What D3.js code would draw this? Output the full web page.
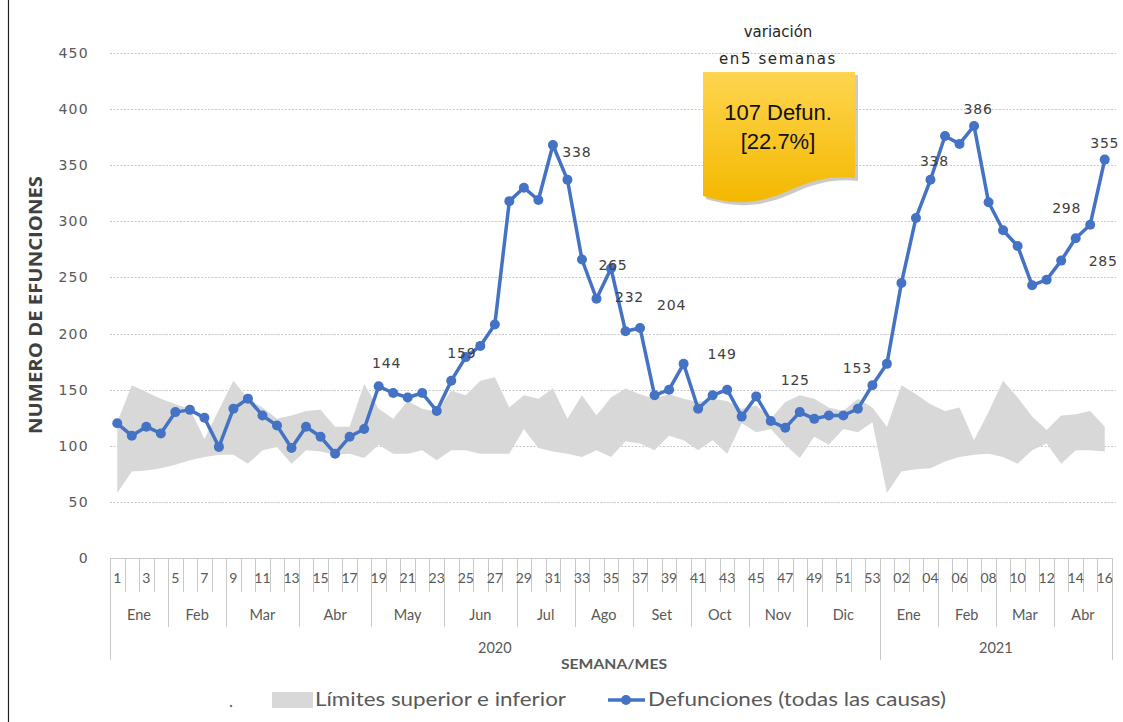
<!DOCTYPE html>
<html><head><meta charset="utf-8">
<script src="https://cdn.jsdelivr.net/npm/d3@7"></script>
<style>
html,body{margin:0;padding:0;background:#fff;}
svg{display:block;}
</style></head>
<body>
<svg id="chart" width="1123" height="722"></svg>
<script>
// ---------- DATA ----------
const weekLabels = ["1","2","3","4","5","6","7","8","9","10","11","12","13","14","15","16","17","18","19","20","21","22","23","24","25","26","27","28","29","30","31","32","33","34","35","36","37","38","39","40","41","42","43","44","45","46","47","48","49","50","51","52","53",
  "01","02","03","04","05","06","07","08","09","10","11","12","13","14","15","16"];
const shownTicks2020 = ["1","3","5","7","9","11","13","15","17","19","21","23","25","27","29","31","33","35","37","39","41","43","45","47","49","51","53"];
const shownTicks2021 = ["02","04","06","08","10","12","14","16"];
const monthNames = ["Ene","Feb","Mar","Abr","May","Jun","Jul","Ago","Set","Oct","Nov","Dic","Ene","Feb","Mar","Abr"];
const monthWeeks = [4,4,5,5,5,5,4,4,4,4,4,5,4,4,4,4];
const yearNames = ["2020","2021"];
const yearWeeks = [53,16];
const deaths = [120,109,117,111,130,132,125,99,133,142,127,118,98,117,108,93,108,115,153,147,143,147,131,158,179,189,208,318,330,319,368,337,266,231,258,202,205,145,150,173,133,145,150,126,144,122,116,130,124,127,127,133,154,
  173,245,303,337,376,369,385,317,292,278,243,248,265,285,297,355];
const upperLimit = [121,154,148,142,137,133,106,132,158,142,134,124,127,131,132,117,117,155,133,124,140,133,130,149,145,158,161,134,145,142,151,124,145,127,143,151,146,142,146,142,139,142,140,133,136,124,139,145,142,134,131,142,134,
  117,154,146,137,131,134,105,130,158,143,126,114,127,128,131,117];
const lowerLimit = [58,77,78,80,83,87,90,92,92,84,96,99,84,96,95,92,93,89,101,93,93,96,87,96,96,93,93,93,115,98,95,93,90,96,90,104,102,96,109,105,96,105,93,120,112,115,101,89,108,101,115,112,121,
  58,77,79,80,86,90,92,93,90,84,96,102,84,96,96,95];
const yTicks = [0,50,100,150,200,250,300,350,400,450];
const labelTexts = ["144","159","338","265","232","204","149","125","153","338","386","298","285","355"];
const labelIndex = [18,24,30,34,35,37,42,46,52,56,59,66,67,68];
// label offsets (style) relative to anchor point
const labelOffsets = [[8,-23],[-4,-4],[24,7],[2,-4],[4,-34],[17,-90],[-5,-36],[10,-48],[-15,-17],[4,-19],[4,-17],[-9,-30],[13,36],[0,-17]];

// ---------- CHART ----------
const svg = d3.select("#chart");
const L = 110, R = 1112, T = 53, B = 558;
const x = d3.scaleBand().domain(d3.range(weekLabels.length)).range([L, R]).padding(0);
const cx = i => x(i) + x.bandwidth()/2;
const y = d3.scaleLinear().domain([0,450]).range([B, T]);

// frame
svg.append("line").attr("x1",8.5).attr("x2",8.5).attr("y1",0).attr("y2",722).attr("stroke","#222").attr("stroke-width",1.2);

// gridlines
svg.append("g").selectAll("line").data(yTicks.filter(d=>d>0)).join("line")
  .attr("x1",L).attr("x2",R+4).attr("y1",d=>Math.round(y(d))+0.5).attr("y2",d=>Math.round(y(d))+0.5)
  .attr("stroke","#c8c8c8").attr("stroke-dasharray","2,1.5").attr("stroke-width",1);

// y tick labels
svg.append("g").selectAll("text").data(yTicks).join("text")
  .attr("x",89).attr("y",d=>y(d)).attr("dy","0.36em").attr("text-anchor","end")
  .attr("font-family","DejaVu Sans, Verdana, sans-serif").attr("font-size",14).attr("letter-spacing","1.3px")
  .attr("fill","#595959").text(d=>d);

// y title
svg.append("text").attr("transform","translate(42,305) rotate(-90)").attr("text-anchor","middle")
  .attr("font-family","Open Sans, DejaVu Sans, sans-serif").attr("font-weight","bold").attr("font-size",17)
  .attr("textLength",258).attr("lengthAdjust","spacingAndGlyphs")
  .attr("fill","#404040").text("NUMERO DE EFUNCIONES");

// band (area)
const area = d3.area().x((d,i)=>cx(i)).y0((d,i)=>y(lowerLimit[i])).y1((d,i)=>y(upperLimit[i]));
svg.append("path").datum(weekLabels).attr("d",area).attr("fill","#d8d8d8");

// x axis structure
const axisCol = "#c9c9c9";
const gx = svg.append("g");
gx.append("line").attr("x1",L).attr("x2",R).attr("y1",B+0.5).attr("y2",B+0.5).attr("stroke",axisCol);
const bx = i => Math.round(L + i*x.bandwidth())+0.5;
gx.selectAll("line.wk").data(d3.range(weekLabels.length+1)).join("line").attr("class","wk")
  .attr("x1",bx).attr("x2",bx).attr("y1",B).attr("y2",592).attr("stroke",axisCol);
const monthStarts = monthWeeks.map((d,i)=>d3.sum(monthWeeks.slice(0,i)));
gx.selectAll("line.mo").data(monthStarts.concat([weekLabels.length])).join("line").attr("class","mo")
  .attr("x1",bx).attr("x2",bx).attr("y1",B).attr("y2",627).attr("stroke",axisCol);
const yearStarts = yearWeeks.map((d,i)=>d3.sum(yearWeeks.slice(0,i)));
gx.selectAll("line.yr").data(yearStarts.concat([weekLabels.length])).join("line").attr("class","yr")
  .attr("x1",bx).attr("x2",bx).attr("y1",B).attr("y2",660).attr("stroke",axisCol);

const catFont = "Lato, Open Sans, sans-serif";
const tickData = weekLabels.map((w,i)=>({w,i}))
  .filter(d => d.i < yearWeeks[0] ? shownTicks2020.includes(d.w) : shownTicks2021.includes(d.w));
gx.selectAll("text.wk").data(tickData).join("text").attr("class","wk")
  .attr("x",d=>cx(d.i)).attr("y",583).attr("text-anchor","middle")
  .attr("font-family",catFont).attr("font-size",14).attr("fill","#595959").text(d=>d.w);
gx.selectAll("text.mo").data(monthNames.map((m,i)=>({m,s:monthStarts[i],n:monthWeeks[i]}))).join("text").attr("class","mo")
  .attr("x",d=>L + (d.s + d.n/2)*x.bandwidth()).attr("y",620).attr("text-anchor","middle")
  .attr("font-family",catFont).attr("font-size",14.5).attr("fill","#595959").text(d=>d.m);
gx.selectAll("text.yr").data(yearNames.map((m,i)=>({m,s:yearStarts[i],n:yearWeeks[i]}))).join("text").attr("class","yr")
  .attr("x",d=>L + (d.s + d.n/2)*x.bandwidth()).attr("y",653).attr("text-anchor","middle")
  .attr("font-family",catFont).attr("font-size",14.5).attr("fill","#595959").text(d=>d.m);

// x title
svg.append("text").attr("x",614).attr("y",669).attr("text-anchor","middle")
  .attr("font-family",catFont).attr("font-weight","bold").attr("font-size",13.5)
  .attr("textLength",106).attr("lengthAdjust","spacingAndGlyphs").attr("fill","#595959").text("SEMANA/MES");

// line
const blue = "#4472C4";
const line = d3.line().x((d,i)=>cx(i)).y(d=>y(d));
svg.append("path").datum(deaths).attr("d",line).attr("fill","none").attr("stroke",blue).attr("stroke-width",3.5).attr("stroke-linejoin","round");
svg.append("g").selectAll("circle").data(deaths).join("circle")
  .attr("cx",(d,i)=>cx(i)).attr("cy",d=>y(d)).attr("r",5).attr("fill",blue);

// data labels
svg.append("g").selectAll("text").data(labelTexts).join("text")
  .attr("x",(d,k)=>cx(labelIndex[k]) + labelOffsets[k][0])
  .attr("y",(d,k)=>y(deaths[labelIndex[k]]) + labelOffsets[k][1])
  .attr("dy","0.36em").attr("text-anchor","middle")
  .attr("font-family","DejaVu Sans, Verdana, sans-serif").attr("font-size",14).attr("letter-spacing","0.8px")
  .attr("fill","#404040").text(d=>d);

// callout
const defs = svg.append("defs");
const grad = defs.append("linearGradient").attr("id","gold").attr("x1",0).attr("y1",0).attr("x2",0).attr("y2",1);
grad.append("stop").attr("offset","0%").attr("stop-color","#FFD54F");
grad.append("stop").attr("offset","100%").attr("stop-color","#F3B800");
const calloutPath = "M703,72 L855,72 L855,178 C838,176 818,178 795,188 C770,199 745,209 703,196 Z";
svg.append("path").attr("d",calloutPath).attr("transform","translate(3,3)").attr("fill","#8a8a8a").attr("opacity",0.45);
svg.append("path").attr("d",calloutPath).attr("fill","url(#gold)");
svg.append("text").attr("x",778).attr("y",120).attr("text-anchor","middle")
  .attr("font-family","Liberation Sans, Arial, sans-serif").attr("font-size",22).attr("fill","#111").text("107 Defun.");
svg.append("text").attr("x",778).attr("y",149).attr("text-anchor","middle")
  .attr("font-family","Liberation Sans, Arial, sans-serif").attr("font-size",22).attr("fill","#111").text("[22.7%]");
svg.append("text").attr("x",778).attr("y",37).attr("text-anchor","middle")
  .attr("font-family","DejaVu Sans, Verdana, sans-serif").attr("font-size",15).attr("fill","#262626").text("variación");
svg.append("text").attr("x",778).attr("y",64).attr("text-anchor","middle")
  .attr("font-family","DejaVu Sans, Verdana, sans-serif").attr("font-size",15).attr("letter-spacing","1.6px").attr("fill","#262626").text("en5 semanas");

// legend
const lg = svg.append("g");
lg.append("text").attr("x",229).attr("y",707).attr("font-family",catFont).attr("font-size",17).attr("fill","#595959").text(".");
lg.append("rect").attr("x",272).attr("y",692).attr("width",41).attr("height",16).attr("fill","#d8d8d8");
lg.append("text").attr("x",315).attr("y",706).attr("font-family",catFont).attr("font-size",18.5).attr("fill","#595959")
  .attr("textLength",251).attr("lengthAdjust","spacingAndGlyphs").text("Límites superior e inferior");
lg.append("line").attr("x1",608).attr("x2",645).attr("y1",700).attr("y2",700).attr("stroke",blue).attr("stroke-width",3.5);
lg.append("circle").attr("cx",626).attr("cy",700).attr("r",5).attr("fill",blue);
lg.append("text").attr("x",648).attr("y",706).attr("font-family",catFont).attr("font-size",18.5).attr("fill","#595959")
  .attr("textLength",298).attr("lengthAdjust","spacingAndGlyphs").text("Defunciones (todas las causas)");
</script>
</body></html>
